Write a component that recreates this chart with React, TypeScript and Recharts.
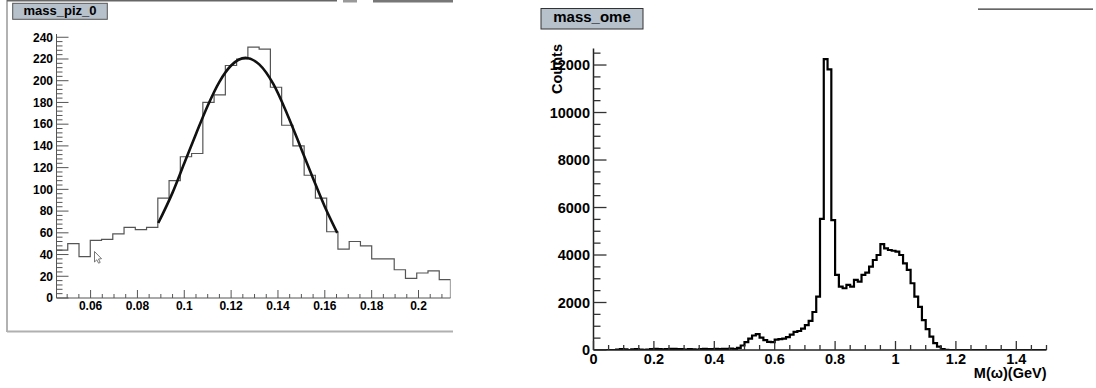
import React from 'react';
import { ComposedChart, Line, XAxis, YAxis } from 'recharts';

// ---------- left panel: mass_piz_0 ----------
const piBinStart = 0.04545;
const piBinWidth = 0.004806;
const piCounts = [44, 50, 38, 53, 54, 59, 65, 63, 65, 92, 108, 130, 133, 180, 187, 214, 220, 231, 229, 194, 159, 140, 113, 92, 61, 45, 52, 48, 36, 36, 26, 18, 23, 25, 17];
const piFitX = [0.0889, 0.095, 0.1, 0.105, 0.11, 0.115, 0.12, 0.1262, 0.132, 0.138, 0.144, 0.15, 0.155, 0.16, 0.1653];
const piFitY = [69, 97, 124, 151, 177, 199, 214, 221, 215, 197, 169, 137, 110, 84, 60];
const piXTicks = [0.06, 0.08, 0.1, 0.12, 0.14, 0.16, 0.18, 0.2];
const piXLabels = ['0.06', '0.08', '0.1', '0.12', '0.14', '0.16', '0.18', '0.2'];
const piYTicks = [0, 20, 40, 60, 80, 100, 120, 140, 160, 180, 200, 220, 240];
const piYLabels = ['0', '20', '40', '60', '80', '100', '120', '140', '160', '180', '200', '220', '240'];
const piXDomain = [0.04545, 0.21366];
const piYDomain = [0, 243];

// ---------- right panel: mass_ome ----------
const omeBinStart = 0;
const omeBinWidth = 0.0125;
const omeCounts = [
  0, 0, 0, 0, 0, 0, 20, 40, 30, 0,
  30, 40, 20, 10, 20, 40, 50, 40, 30, 40,
  50, 50, 40, 40, 20, 40, 30, 20, 40, 50,
  40, 40, 50, 40, 50, 50, 60, 40, 90, 190,
  330, 480, 610, 670, 520, 420, 340, 330, 440, 460,
  480, 540, 650, 760, 800, 900, 1050, 1230, 1600, 2250,
  5520, 12250, 11820, 5470, 3160, 2670, 2600, 2740, 2670, 2950,
  2880, 3160, 3260, 3510, 3790, 4000, 4460, 4280, 4210, 4180,
  4140, 4000, 3650, 3370, 2810, 2250, 1820, 1260, 880, 560,
  290, 140, 40, 10, 0, 0, 0, 0, 0, 0,
  0, 0, 0, 0, 0, 0, 0, 0, 0, 0,
  0, 0, 0, 0, 0, 0, 0, 0, 0, 0,
];
const omeXTicks = [0, 0.2, 0.4, 0.6, 0.8, 1, 1.2, 1.4];
const omeXLabels = ['0', '0.2', '0.4', '0.6', '0.8', '1', '1.2', '1.4'];
const omeYTicks = [0, 2000, 4000, 6000, 8000, 10000, 12000];
const omeYLabels = ['0', '2000', '4000', '6000', '8000', '10000', '12000'];
const omeXDomain = [0, 1.5];
const omeYDomain = [0, 12700];

const FONT = '"Liberation Sans", Arial, Helvetica, sans-serif';

function histPoints(start: number, width: number, counts: number[]) {
  const pts = counts.map((c, i) => ({ x: start + i * width, y: c }));
  pts.push({ x: start + counts.length * width, y: 0 });
  return pts;
}

function minorTicks(from: number, to: number, step: number, majors: number[]) {
  const out: number[] = [];
  const n = Math.round((to - from) / step);
  for (let i = 0; i <= n; i++) {
    const v = +(from + i * step).toFixed(6);
    if (!majors.some((m) => Math.abs(m - v) < step * 1e-3)) out.push(v);
  }
  return out;
}

const piHist = histPoints(piBinStart, piBinWidth, piCounts);
const piFit = piFitX.map((x, i) => ({ x, y: piFitY[i] }));
const piXAll = [...piXTicks, ...minorTicks(0.05, 0.21, 0.005, piXTicks)].sort((a, b) => a - b);
const piYAll = [...piYTicks, ...minorTicks(0, 240, 4, piYTicks)].sort((a, b) => a - b);

const omeHist = histPoints(omeBinStart, omeBinWidth, omeCounts);
const omeXAll = [...omeXTicks, ...minorTicks(0.05, 1.5, 0.05, omeXTicks)].sort((a, b) => a - b);
const omeYAll = [...omeYTicks, ...minorTicks(500, 12500, 500, omeYTicks)].sort((a, b) => a - b);

function labelOf(v: number, majors: number[], labels: string[]) {
  const i = majors.findIndex((m) => Math.abs(m - v) < 1e-9);
  return i >= 0 ? labels[i] : null;
}

function makeYTick(majors: number[], labels: string[], majorLen: number, minorLen: number, fs: number, color: string, sw: number) {
  return (props: any) => {
    const { x, y, payload } = props;
    const lab = labelOf(payload.value, majors, labels);
    return (
      <g>
        <line x1={x} x2={x + (lab !== null ? majorLen : minorLen)} y1={y} y2={y} stroke={color} strokeWidth={sw} />
        {lab !== null && (
          <text x={x - 3.5} y={y + fs * 0.36} textAnchor="end" fontFamily={FONT} fontWeight="bold" fontSize={fs} fill="#000">
            {lab}
          </text>
        )}
      </g>
    );
  };
}

function makeXTick(majors: number[], labels: string[], majorLen: number, minorLen: number, fs: number, color: string, sw: number, labelDy: number) {
  return (props: any) => {
    const { x, y, payload } = props;
    const lab = labelOf(payload.value, majors, labels);
    return (
      <g>
        <line x1={x} x2={x} y1={y} y2={y - (lab !== null ? majorLen : minorLen)} stroke={color} strokeWidth={sw} />
        {lab !== null && (
          <text x={x} y={y + labelDy} textAnchor="middle" fontFamily={FONT} fontWeight="bold" fontSize={fs} fill="#000">
            {lab}
          </text>
        )}
      </g>
    );
  };
}

const piYTick = makeYTick(piYTicks, piYLabels, 12, 6, 12, '#555', 1);
const piXTick = makeXTick(piXTicks, piXLabels, 8, 4, 12, '#555', 1, 12);
const omeYTick = makeYTick(omeYTicks, omeYLabels, 13, 7, 14.5, '#333', 1.3);
const omeXTick = makeXTick(omeXTicks, omeXLabels, 9, 5, 14.5, '#333', 1.3, 13.5);

export default function App() {
  return (
    <div style={{ position: 'absolute', left: 0, top: 0, width: 1096, height: 388, background: '#fff', overflow: 'hidden' }}>
      <div style={{ position: 'absolute', left: 0, top: 0 }}>
        <ComposedChart width={460} height={340} margin={{ top: 34, left: 55.5, right: 9.5, bottom: 41 }}>
          <XAxis
            type="number"
            dataKey="x"
            domain={piXDomain}
            allowDataOverflow
            ticks={piXAll}
            interval={0}
            height={1}
            tickSize={0}
            tickMargin={0}
            tickLine={false}
            axisLine={{ stroke: '#555', strokeWidth: 1 }}
            tick={piXTick}
          />
          <YAxis
            type="number"
            dataKey="y"
            domain={piYDomain}
            allowDataOverflow
            ticks={piYAll}
            interval={0}
            width={1}
            tickSize={0}
            tickMargin={0}
            tickLine={false}
            axisLine={{ stroke: '#555', strokeWidth: 1 }}
            tick={piYTick}
          />
          <Line data={piHist} dataKey="y" type="stepAfter" stroke="#555" strokeWidth={1.2} dot={false} activeDot={false} isAnimationActive={false} />
          <Line data={piFit} dataKey="y" type="monotone" stroke="#111" strokeWidth={2.6} dot={false} activeDot={false} isAnimationActive={false} />
        </ComposedChart>
      </div>
      <div style={{ position: 'absolute', left: 540, top: 0 }}>
        <ComposedChart width={556} height={388} margin={{ top: 48.4, left: 52.5, right: 49.5, bottom: 37 }}>
          <XAxis
            type="number"
            dataKey="x"
            domain={omeXDomain}
            allowDataOverflow
            ticks={omeXAll}
            interval={0}
            height={1}
            tickSize={0}
            tickMargin={0}
            tickLine={false}
            axisLine={{ stroke: '#222', strokeWidth: 1.5 }}
            tick={omeXTick}
          />
          <YAxis
            type="number"
            dataKey="y"
            domain={omeYDomain}
            allowDataOverflow
            ticks={omeYAll}
            interval={0}
            width={1}
            tickSize={0}
            tickMargin={0}
            tickLine={false}
            axisLine={{ stroke: '#222', strokeWidth: 1.5 }}
            tick={omeYTick}
          />
          <Line data={omeHist} dataKey="y" type="stepAfter" stroke="#000" strokeWidth={2.2} dot={false} activeDot={false} isAnimationActive={false} />
        </ComposedChart>
      </div>
      <svg width={1096} height={388} style={{ position: 'absolute', left: 0, top: 0, pointerEvents: 'none' }}>
        {/* left pad frame */}
        <line x1={7} y1={0} x2={7} y2={332} stroke="#999" strokeWidth={1.5} />
        <line x1={7} y1={331.5} x2={453} y2={331.5} stroke="#b0b0b0" strokeWidth={2} />
        <line x1={7} y1={0.7} x2={337} y2={0.7} stroke="#666" strokeWidth={1.5} />
        <rect x={343} y={0} width={14} height={2.5} fill="#999" />
        <rect x={373} y={0} width={80} height={2.5} fill="#777" />
        {/* left title */}
        <rect x={12.7} y={3.3} width={94.6} height={16} fill="#b6c1cc" stroke="#555" strokeWidth={1} />
        <text x={60} y={15.2} textAnchor="middle" fontFamily={FONT} fontWeight="bold" fontSize={13} fill="#000">mass_piz_0</text>
        {/* cursor */}
        <path d="M94.5,251.5 L94.5,262 L96.8,259.8 L98.6,263.2 L100.2,262.4 L98.5,259 L101.5,258.7 Z" fill="#fff" stroke="#555" strokeWidth={0.8} />
        {/* right title */}
        <rect x={541} y={8.5} width={102} height={20.5} fill="#b6c1cc" stroke="#333" strokeWidth={1} />
        <text x={592} y={21.5} textAnchor="middle" fontFamily={FONT} fontWeight="bold" fontSize={15} fill="#000">mass_ome</text>
        <line x1={978} y1={9.2} x2={1093} y2={9.2} stroke="#333" strokeWidth={1.3} />
        {/* right axis titles */}
        <text x={561.5} y={69} textAnchor="middle" transform="rotate(-90 561.5 69)" fontFamily={FONT} fontWeight="bold" fontSize={14.5} fill="#000">Counts</text>
        <text x={1046.5} y={377.5} textAnchor="end" fontFamily={FONT} fontWeight="bold" fontSize={14.5} fill="#000">M(ω)(GeV)</text>
      </svg>
    </div>
  );
}
